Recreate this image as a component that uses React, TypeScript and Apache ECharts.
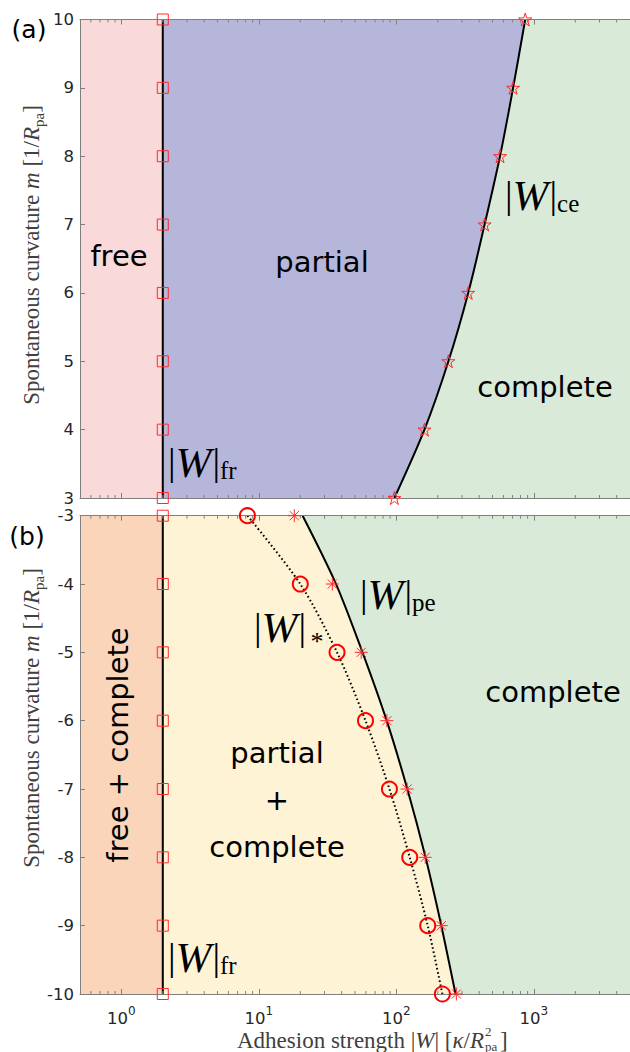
import React, { useEffect, useRef } from "react";
import * as echarts from "echarts";

// ---------------- data ----------------
const xMin = 0.5;
const xMax = 5000;
// panel (a): positive spontaneous curvature
const mA = [3, 4, 5, 6, 7, 8, 9, 10];
const wFrA = [2, 2, 2, 2, 2, 2, 2, 2];
const wCe = [96.7, 160, 239, 333, 438, 567, 706, 865];
// panel (b): negative spontaneous curvature
const mB = [-3, -4, -5, -6, -7, -8, -9, -10];
const wFrB = [2, 2, 2, 2, 2, 2, 2, 2];
const wPe = [18.1, 34.2, 55.5, 85.3, 119.7, 162, 212, 273];
const wPeLine = [20.8, 36.4, 56.7, 85.0, 120.1, 162.9, 212.1, 269.3];
const wStar = [8.25, 20.0, 37.0, 59.6, 89, 125, 169, 216];
// x-axis minor tick values (log axis)
const minorTickValues = [
  0.6, 0.7, 0.8, 0.9, 2, 3, 4, 5, 6, 7, 8, 9, 20, 30, 40, 50, 60, 70, 80, 90,
  200, 300, 400, 500, 600, 700, 800, 900, 2000, 3000, 4000,
];

// ---------------- styles ----------------
const SANS = '"DejaVu Sans", "Noto Sans", sans-serif';
const SERIF = '"Liberation Serif", "DejaVu Serif", serif';
const AX = "#808080";
const TICKCOL = "#262626";
const RED = "#ff2b2b";
const PINK = "#F9D9D9";
const LAV = "#B6B6DA";
const GREEN = "#D9EBD8";
const PEACH = "#FAD5BA";
const YELLOW = "#FEF3D5";

const zip = (w: number[], m: number[]) => w.map((v, i) => [v, m[i]]);

const STAR =
  "path://M50,2 L61.2,36.2 L97.5,36.2 L68.2,57.4 L79.4,92 L50,70.6 L20.6,92 L31.8,57.4 L2.5,36.2 L38.8,36.2 Z";
const ASTER =
  "path://M0,50 L100,50 M50,0 L50,100 M15,15 L85,85 M85,15 L15,85";

function regionSeries(gi: number, yMid: number, polys: { pts: number[][]; color: string }[]) {
  return {
    type: "custom",
    xAxisIndex: gi * 2,
    yAxisIndex: gi,
    z: 1,
    silent: true,
    clip: true,
    data: [[1, yMid]],
    renderItem: (_p: any, api: any) => ({
      type: "group",
      children: polys.map((p) => ({
        type: "polygon",
        shape: { points: p.pts.map((pt) => api.coord(pt)) },
        style: { fill: p.color },
      })),
    }),
  };
}

function minorTickSeries(gi: number, yLo: number, yHi: number) {
  return {
    type: "custom",
    xAxisIndex: gi * 2,
    yAxisIndex: gi,
    z: 11,
    silent: true,
    clip: false,
    data: minorTickValues.map((v) => [v, (yLo + yHi) / 2]),
    renderItem: (_p: any, api: any) => {
      const v = api.value(0);
      const b = api.coord([v, yLo]);
      const t = api.coord([v, yHi]);
      return {
        type: "group",
        children: [
          { type: "line", shape: { x1: b[0], y1: b[1], x2: b[0], y2: b[1] - 3 }, style: { stroke: AX, lineWidth: 1 } },
          { type: "line", shape: { x1: t[0], y1: t[1], x2: t[0], y2: t[1] + 3 }, style: { stroke: AX, lineWidth: 1 } },
        ],
      };
    },
  };
}

function xAxis(gridIndex: number, position: string, labels: boolean) {
  return {
    type: "log",
    logBase: 10,
    min: xMin,
    max: xMax,
    gridIndex,
    position,
    z: 10,
    axisLine: { show: true, onZero: false, lineStyle: { color: AX, width: 1 } },
    axisTick: { show: true, inside: true, length: 5, lineStyle: { color: AX, width: 1 } },
    splitLine: { show: false },
    axisLabel: labels
      ? {
          show: true,
          margin: 11,
          showMinLabel: false,
          showMaxLabel: false,
          formatter: (v: number) => {
            const e = Math.round(Math.log10(v));
            if (Math.abs(Math.log10(v) - e) > 1e-6) return "";
            return `{b|10}{s|${e}}`;
          },
          rich: {
            b: { fontFamily: SANS, fontSize: 16.5, lineHeight: 26, color: TICKCOL },
            s: { fontFamily: SANS, fontSize: 12, lineHeight: 13, verticalAlign: "top", color: TICKCOL },
          },
        }
      : { show: false },
  };
}

function yAxis(gridIndex: number, min: number, max: number) {
  return {
    type: "value",
    gridIndex,
    min,
    max,
    interval: 1,
    position: "left",
    z: 10,
    axisLine: { show: true, onZero: false, lineStyle: { color: AX, width: 1 } },
    axisTick: { show: true, inside: true, length: 5, lineStyle: { color: AX, width: 1 } },
    splitLine: { show: false },
    axisLabel: { color: TICKCOL, fontSize: 16.5, fontFamily: SANS, margin: 6 },
  };
}

function lineSeries(gi: number, data: number[][], extra: any = {}) {
  return {
    type: "line",
    xAxisIndex: gi * 2,
    yAxisIndex: gi,
    data,
    symbol: "none",
    z: 5,
    silent: true,
    lineStyle: { color: "#000", width: 2 },
    ...extra,
  };
}

function markerSeries(gi: number, data: number[][], symbol: string, size: number, bw: number, color = RED) {
  return {
    type: "scatter",
    xAxisIndex: gi * 2,
    yAxisIndex: gi,
    data,
    symbol,
    symbolSize: size,
    z: 12,
    clip: false,
    silent: true,
    itemStyle: { color: "rgba(0,0,0,0)", borderColor: color, borderWidth: bw, opacity: 1 },
  };
}

function txt(x: number, y: number, text: string, extra: any = {}, el: any = {}) {
  return {
    type: "text",
    x,
    y,
    z: 100,
    silent: true,
    ...el,
    style: {
      text,
      fill: "#000",
      fontFamily: SANS,
      fontSize: 29,
      align: "center",
      verticalAlign: "middle",
      textAlign: "center",
      textVerticalAlign: "middle",
      ...extra,
    },
  };
}

function wLabel(x: number, top: number, sub: string) {
  return {
    type: "text",
    x,
    y: top,
    z: 100,
    silent: true,
    style: {
      text: "{b||}{w|W}{b||}" + (sub ? `{s|${sub}}` : ""),
      align: "left",
      verticalAlign: "top",
      textAlign: "left",
      textVerticalAlign: "top",
      rich: {
        b: { fontFamily: SERIF, fontSize: 38, lineHeight: 42, fill: "#000", color: "#000" },
        w: { fontFamily: SERIF, fontStyle: "italic", fontSize: 43, lineHeight: 42, fill: "#000", color: "#000", padding: [0, 1, 0, 0] },
        s: { fontFamily: SERIF, fontSize: 25, lineHeight: 25, verticalAlign: "bottom", fill: "#000", color: "#000" },
      },
    },
  };
}

const NAMECOL = "#404040";
const nameRich = {
  n: { fontFamily: SERIF, fontSize: 23, fill: NAMECOL, color: NAMECOL, lineHeight: 30 },
  i: { fontFamily: SERIF, fontSize: 23, fontStyle: "italic", fill: NAMECOL, color: NAMECOL, lineHeight: 30 },
  s: { fontFamily: SERIF, fontSize: 15, fill: NAMECOL, color: NAMECOL, lineHeight: 19, verticalAlign: "bottom" },
};

function yName(cx: number, cy: number) {
  return txt(
    cx,
    cy,
    "{n|Spontaneous curvature }{i|m}{n| [1/}{i|R}{s|pa}{n|]}",
    { rich: nameRich },
    { rotation: Math.PI / 2 }
  );
}

export default function App() {
  const ref = useRef<HTMLDivElement>(null);
  useEffect(() => {
    if (!ref.current) return;
    const chart = echarts.init(ref.current, null, { renderer: "svg", width: 630, height: 1052 });

    const ceLine = zip(wCe, mA);
    const peLine = zip(wPeLine, mB);

    const option: any = {
      animation: false,
      backgroundColor: "#ffffff",
      grid: [
        { left: 80, top: 19.5, width: 559, height: 478.5 },
        { left: 80, top: 515.7, width: 559, height: 478.3 },
      ],
      xAxis: [
        xAxis(0, "bottom", false),
        xAxis(0, "top", false),
        xAxis(1, "bottom", true),
        xAxis(1, "top", false),
      ],
      yAxis: [yAxis(0, 3, 10), yAxis(1, -10, -3)],
      series: [
        regionSeries(0, 5, [
          { pts: [[xMin, 3], [xMax, 3], [xMax, 10], [xMin, 10]], color: GREEN },
          { pts: [[xMin, 3], [wFrA[0], 3], [wFrA[7], 10], [xMin, 10]], color: PINK },
          { pts: [[wFrA[0], 3], ...ceLine, [wFrA[7], 10]], color: LAV },
        ]),
        regionSeries(1, -5, [
          { pts: [[xMin, -3], [xMax, -3], [xMax, -10], [xMin, -10]], color: GREEN },
          { pts: [[xMin, -3], [wFrB[0], -3], [wFrB[7], -10], [xMin, -10]], color: PEACH },
          { pts: [[wFrB[0], -3], ...peLine, [wFrB[7], -10]], color: YELLOW },
        ]),
        minorTickSeries(0, 3, 10),
        minorTickSeries(1, -10, -3),
        lineSeries(0, zip(wFrA, mA)),
        lineSeries(0, ceLine, { smooth: 0.3 }),
        lineSeries(1, zip(wFrB, mB)),
        lineSeries(1, peLine, { smooth: 0.3 }),
        lineSeries(1, zip(wStar, mB), {
          smooth: 0.3,
          lineStyle: { color: "#000", width: 2, type: [1.6, 2.6], cap: "butt" },
        }),
        markerSeries(0, zip(wFrA, mA), "rect", 11, 1),
        markerSeries(0, zip(wCe, mA), STAR, 13, 1),
        markerSeries(1, zip(wFrB, mB), "rect", 11, 1),
        markerSeries(1, zip(wPe, mB), ASTER, 13, 1),
        markerSeries(1, zip(wStar, mB), "circle", 15, 2, "#ff0000"),
      ],
      graphic: [
        txt(29, 29, "(a)", { fontSize: 25 }),
        txt(27, 536, "(b)", { fontSize: 25 }),
        txt(119, 256, "free"),
        txt(322, 262, "partial"),
        txt(545, 387, "complete"),
        txt(118, 745, "free + complete", {}, { rotation: Math.PI / 2 }),
        txt(277, 800, "partial\n+\ncomplete", { lineHeight: 47 }),
        txt(553, 692, "complete"),
        wLabel(505, 174.3, "ce"),
        wLabel(360, 573.3, "pe"),
        wLabel(254, 606.3, ""),
        txt(317, 641, "*", { fontFamily: SERIF, fontSize: 26 }),
        wLabel(168, 441, "fr"),
        wLabel(168, 936.3, "fr"),
        yName(31, 255),
        yName(31, 718),
        txt(484, 1040, "{n|Adhesion strength |}{i|W}{n|| [}{i|κ}{n|/}{i|R}", {
          align: "right",
          textAlign: "right",
          rich: nameRich,
        }),
        txt(485, 1031, "2", { align: "left", textAlign: "left", fontFamily: SERIF, fontSize: 13, fill: NAMECOL }),
        txt(485, 1046, "pa", { align: "left", textAlign: "left", fontFamily: SERIF, fontSize: 13, fill: NAMECOL }),
        txt(500, 1040, "]", { align: "left", textAlign: "left", fontFamily: SERIF, fontSize: 23, fill: NAMECOL }),
      ],
    };
    chart.setOption(option);
    return () => chart.dispose();
  }, []);
  return (
    <div
      ref={ref}
      style={{ position: "fixed", left: 0, top: 0, width: 630, height: 1052, background: "#fff" }}
    />
  );
}
